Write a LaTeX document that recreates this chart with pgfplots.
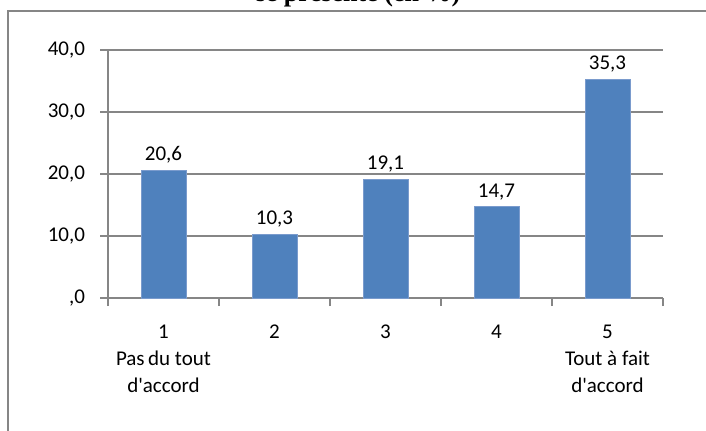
\documentclass[border=0pt]{standalone}
\usepackage{pgfplots}
\pgfplotsset{compat=1.18}
\usepackage{fontspec}
\setmainfont{Carlito}[Ligatures=TeXOff]
\newfontfamily\titlefont{Liberation Serif}
\definecolor{barblue}{HTML}{4F81BD}
\definecolor{baredge}{HTML}{7A9BCD}
\definecolor{gridgray}{HTML}{868686}
\begin{document}
\begin{tikzpicture}
% outer chart frame (runs past the cropped page on the right and bottom)
\draw[gridgray, line width=1pt] (4pt,-20pt) -- (4pt,209.5pt) -- (380pt,209.5pt);
% title, mostly cut off by the page edge
\node[anchor=base, font=\titlefont\fontsize{13}{15}\selectfont\bfseries] at (179pt,214.5pt) {se présente (en \%)};
\begin{axis}[
  at={(54pt,66pt)}, anchor=south west,
  scale only axis,
  width=277.5pt, height=124pt,
  xmin=0.5, xmax=5.5,
  ymin=0, ymax=40,
  axis x line*=bottom, axis y line*=left,
  axis line style={gridgray, line width=1pt},
  ymajorgrids,
  grid style={gridgray, line width=1pt},
  tick align=outside,
  major tick length=4pt,
  minor tick length=4pt,
  tick style={gridgray, line width=1pt},
  xtick={1,2,3,4,5},
  xticklabels={{1\\Pas\,du tout\\d'accord},2,3,4,{5\\Tout à fait\\d'accord}},
  major x tick style={draw=none},
  minor x tick style={draw=gridgray, line width=1pt},
  minor xtick={0.5,1.5,2.5,3.5,4.5,5.5},
  x tick label style={align=center, anchor=north, yshift=-6pt,
    font=\fontsize{10.5}{13.5}\selectfont},
  ytick={0,10,20,30,40},
  yticklabels={{,0},{10,0},{20,0},{30,0},{40,0}},
  ytick style={draw=gridgray, line width=1pt},
  y tick label style={xshift=-4pt, font=\fontsize{10.5}{13}\selectfont},
  ybar, bar width=22.5pt,
  nodes near coords,
  every node near coord/.append style={font=\fontsize{10.5}{13}\selectfont, black},
  /pgf/number format/.cd, fixed, fixed zerofill, precision=1, use comma,
  assume math mode=true,
]
\addplot[fill=barblue, draw=baredge, line width=0.4pt] coordinates {
  (1,20.6) (2,10.3) (3,19.1) (4,14.7) (5,35.3)
};
\end{axis}
\pgfresetboundingbox
\useasboundingbox (0,0) rectangle (353pt,215pt);
\end{tikzpicture}
\end{document}
